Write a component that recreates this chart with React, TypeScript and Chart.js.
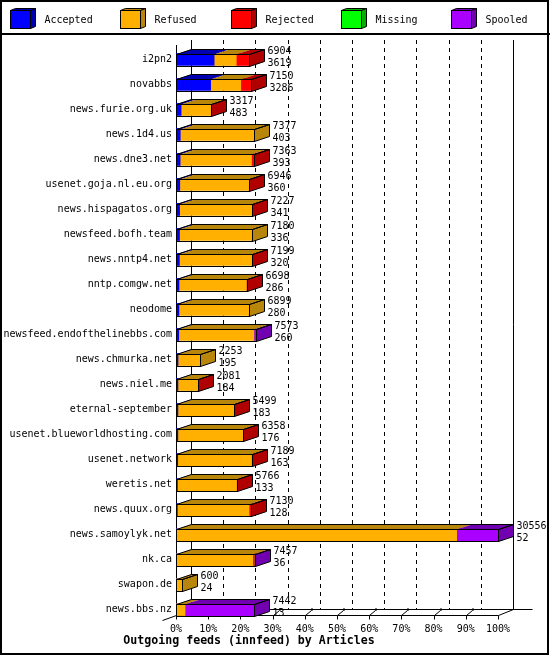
import { useEffect, useRef } from "react";
import { Chart, registerables } from "chart.js";

Chart.register(...registerables);

const feeds = [
  "i2pn2",
  "novabbs",
  "news.furie.org.uk",
  "news.1d4.us",
  "news.dne3.net",
  "usenet.goja.nl.eu.org",
  "news.hispagatos.org",
  "newsfeed.bofh.team",
  "news.nntp4.net",
  "nntp.comgw.net",
  "neodome",
  "newsfeed.endofthelinebbs.com",
  "news.chmurka.net",
  "news.niel.me",
  "eternal-september",
  "usenet.blueworldhosting.com",
  "usenet.network",
  "weretis.net",
  "news.quux.org",
  "news.samoylyk.net",
  "nk.ca",
  "swapon.de",
  "news.bbs.nz",
];

const accepted = [3619, 3286, 483, 403, 393, 360, 341, 336, 320, 286, 280, 260, 195, 184, 183, 176, 163, 133, 128, 52, 36, 24, 13];
const refused = [2100, 2856, 2814, 6974, 6770, 6566, 6866, 6844, 6859, 6392, 6619, 7123, 2058, 1877, 5296, 6162, 7006, 5613, 6802, 26584, 7251, 576, 840];
const rejected = [1185, 1008, 20, 0, 200, 20, 20, 0, 20, 20, 0, 0, 0, 20, 20, 20, 20, 20, 200, 0, 150, 0, 0];
const missing = [0, 0, 0, 0, 0, 0, 0, 0, 0, 0, 0, 0, 0, 0, 0, 0, 0, 0, 0, 0, 0, 0, 0];
const spooled = [0, 0, 0, 0, 0, 0, 0, 0, 0, 0, 0, 190, 0, 0, 0, 0, 0, 0, 0, 3920, 20, 0, 6589];

const percentTicks = ["0%", "10%", "20%", "30%", "40%", "50%", "60%", "70%", "80%", "90%", "100%"];

const seriesNames = ["Accepted", "Refused", "Rejected", "Missing", "Spooled"];
const frontColors = ["#0000ff", "#ffb000", "#ff0000", "#00ff00", "#aa00ff"];
const shadeColors = ["#0000b0", "#b8860b", "#b00000", "#00b000", "#7000b0"];

const series = [accepted, refused, rejected, missing, spooled];
const totals = feeds.map((_, i) => series.reduce((sum, s) => sum + s[i], 0));
const maxTotal = Math.max(...totals);

const FONT = "'DejaVu Sans Mono', monospace";
const DX = 15;
const DY = 5;

const poly = (ctx: CanvasRenderingContext2D, pts: number[][], fill?: string) => {
  ctx.beginPath();
  pts.forEach(([x, y], i) => (i ? ctx.lineTo(x, y) : ctx.moveTo(x, y)));
  ctx.closePath();
  if (fill) {
    ctx.fillStyle = fill;
    ctx.fill();
  }
};

const px = (v: number) => Math.round(v) + 0.5;

const box3d = {
  id: "box3d",
  beforeDraw(chart: any) {
    const { ctx, width, height } = chart;
    ctx.save();
    ctx.fillStyle = "#fff";
    ctx.fillRect(0, 0, width, height);

    // legend strip
    ctx.font = `10px ${FONT}`;
    ctx.textBaseline = "middle";
    ctx.lineWidth = 1;
    ctx.strokeStyle = "#000";
    seriesNames.forEach((name, i) => {
      const x = Math.round(10 + i * 110.3) + 0.5;
      const y = 10.5;
      const w = 20;
      const h = 18;
      poly(ctx, [[x, y], [x + 5, y - 2], [x + w + 5, y - 2], [x + w, y]], shadeColors[i]);
      ctx.stroke();
      poly(ctx, [[x + w, y], [x + w + 5, y - 2], [x + w + 5, y + h - 2], [x + w, y + h]], shadeColors[i]);
      ctx.stroke();
      ctx.fillStyle = frontColors[i];
      ctx.fillRect(x, y, w, h);
      ctx.strokeRect(x, y, w, h);
      ctx.fillStyle = "#000";
      ctx.fillText(name, x + 34, 20);
    });
    ctx.fillStyle = "#000";
    ctx.fillRect(0, 33, width, 2);
    ctx.restore();
  },
  beforeDatasetsDraw(chart: any) {
    const { ctx, chartArea, scales } = chart;
    const xs = scales.x;
    const front = 615.5;
    const back = front - DY - 1;
    const topBack = 40;
    ctx.save();
    ctx.strokeStyle = "#000";
    ctx.lineWidth = 1;

    percentTicks.forEach((_, k) => {
      const fx = Math.round(xs.getPixelForValue((maxTotal * k) / 10));
      const bx = fx + DX + 0.5;
      ctx.setLineDash(k === 0 || k === 10 ? [] : [4, 4]);
      ctx.beginPath();
      ctx.moveTo(bx, topBack);
      ctx.lineTo(bx, back);
      ctx.stroke();
      ctx.setLineDash([]);
      // small ticks on the floor edge
      ctx.beginPath();
      ctx.moveTo(fx + 0.5, front);
      ctx.lineTo(fx + 0.5, front + 4);
      if (k > 0 && k < 10) {
        ctx.moveTo(fx + 0.5, front);
        ctx.lineTo(fx + 6.5, back + 1);
      }
      ctx.stroke();
      if (k > 0 && k < 10) {
        ctx.fillStyle = "#000";
        ctx.fillRect(fx + 6, back - 1, 2, 2);
      }
    });

    // floor
    const left = Math.round(chartArea.left) + 0.5;
    const right = Math.round(xs.getPixelForValue(maxTotal)) + 0.5;
    ctx.beginPath();
    ctx.moveTo(left + DX, back);
    ctx.lineTo(right + DX + 19, back);
    ctx.moveTo(left - 14, front + 5);
    ctx.lineTo(left, front);
    ctx.lineTo(right, front);
    ctx.lineTo(right + DX, back);
    // front vertical axis
    ctx.moveTo(left, 45);
    ctx.lineTo(left, front);
    ctx.stroke();
    ctx.restore();
  },
  afterDatasetsDraw(chart: any) {
    const { ctx } = chart;
    const metas = chart.data.datasets.map((_: any, d: number) => chart.getDatasetMeta(d));
    ctx.save();
    ctx.strokeStyle = "#000";
    ctx.lineWidth = 1;
    ctx.font = `10px ${FONT}`;
    ctx.textBaseline = "middle";
    ctx.textAlign = "left";

    feeds.forEach((_, i) => {
      let left = 0;
      let right = 0;
      let top = 0;
      let bottom = 0;
      let last = -1;
      series.forEach((s, d) => {
        if (!s[i]) return;
        const el = metas[d].data[i];
        const { x, base, y, height } = el.getProps(["x", "base", "y", "height"], true);
        const x0 = Math.min(x, base);
        const x1 = Math.max(x, base);
        top = px(y - height / 2);
        bottom = px(y + height / 2);
        if (last < 0) left = px(x0);
        right = px(x1);
        last = d;
        poly(ctx, [[x0, top], [x0 + DX, top - DY], [x1 + DX, top - DY], [x1, top]], shadeColors[d]);
      });
      if (last < 0) return;
      poly(ctx, [[right, top], [right + DX, top - DY], [right + DX, bottom - DY], [right, bottom]], shadeColors[last]);
      ctx.stroke();
      poly(ctx, [[left, top], [left + DX, top - DY], [right + DX, top - DY], [right, top]]);
      ctx.stroke();
      ctx.strokeRect(left, top, right - left, bottom - top);

      const tx = right + DX + 3;
      const yc = (top + bottom) / 2;
      ctx.fillStyle = "#000";
      ctx.fillText(String(totals[i]), tx, yc - 9);
      ctx.fillText(String(accepted[i]), tx, yc + 3);
    });
    ctx.restore();
  },
  afterDraw(chart: any) {
    const { ctx, width, height } = chart;
    ctx.save();
    ctx.strokeStyle = "#000";
    ctx.lineWidth = 2;
    ctx.strokeRect(1, 1, width - 3, height - 2);
    ctx.restore();
  },
};

export default function App() {
  const canvasRef = useRef<HTMLCanvasElement | null>(null);
  const chartRef = useRef<Chart | null>(null);

  useEffect(() => {
    document.body.style.margin = "0";
    if (!canvasRef.current) return;
    if (chartRef.current) chartRef.current.destroy();

    chartRef.current = new Chart(canvasRef.current, {
      type: "bar",
      data: {
        labels: feeds,
        datasets: series.map((s, d) => ({
          label: seriesNames[d],
          data: s,
          backgroundColor: frontColors[d],
          borderWidth: 0,
          barThickness: 12,
        })),
      },
      options: {
        animation: false,
        responsive: false,
        indexAxis: "y",
        layout: { padding: { top: 47, right: 52, left: 0, bottom: 0 } },
        scales: {
          x: {
            stacked: true,
            min: 0,
            max: maxTotal,
            grid: { display: false, drawTicks: false },
            border: { display: false },
            afterBuildTicks: (scale: any) => {
              scale.ticks = percentTicks.map((_, k) => ({ value: (maxTotal * k) / 10 }));
            },
            afterFit: (scale: any) => {
              scale.height = 12;
            },
            ticks: {
              autoSkip: false,
              maxRotation: 0,
              padding: 1,
              color: "#000",
              font: { family: FONT, size: 10 },
              callback: (_v: any, idx: number) => percentTicks[idx],
            },
          },
          y: {
            stacked: true,
            grid: { display: false, drawTicks: false },
            border: { display: false },
            afterFit: (scale: any) => {
              scale.width = 176;
            },
            ticks: {
              autoSkip: false,
              padding: 4,
              color: "#000",
              font: { family: FONT, size: 10 },
            },
          },
        },
        plugins: {
          legend: { display: false },
          tooltip: { enabled: false },
          title: {
            display: true,
            position: "bottom",
            text: "Outgoing feeds (innfeed) by Articles",
            color: "#000",
            font: { family: FONT, size: 11.6, weight: "bold" },
            padding: { top: 0, bottom: 7 },
          },
        },
      },
      plugins: [box3d],
    });

    return () => {
      if (chartRef.current) {
        chartRef.current.destroy();
        chartRef.current = null;
      }
    };
  }, []);

  return (
    <div style={{ width: 550, height: 655 }}>
      <canvas ref={canvasRef} width={550} height={655} style={{ display: "block" }} />
    </div>
  );
}
